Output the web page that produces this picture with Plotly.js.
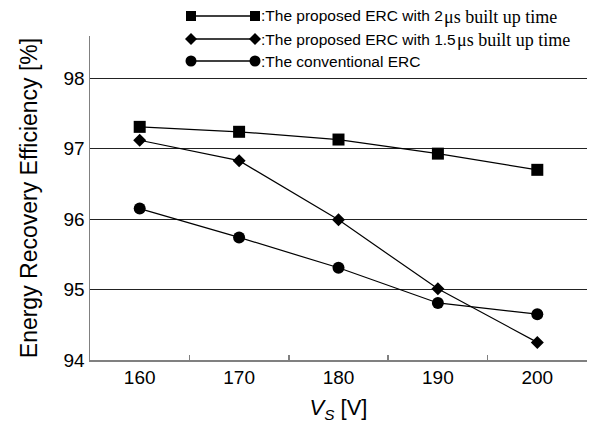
<!DOCTYPE html>
<html>
<head>
<meta charset="utf-8">
<script src="https://cdn.plot.ly/plotly-3.0.1.min.js"></script>
<style>html,body{margin:0;padding:0;background:#fff;}#chart{width:591px;height:427px;}</style>
</head>
<body>
<div id="chart"></div>
<script>
// ---- data ----
var categories = ['160', '170', '180', '190', '200'];
var proposed2us = [97.31, 97.24, 97.13, 96.93, 96.70];
var proposed15us = [97.12, 96.83, 95.99, 95.01, 94.25];
var conventional = [96.15, 95.74, 95.31, 94.81, 94.65];
var namesSans = [':The proposed ERC with 2', ':The proposed ERC with 1.5', ':The conventional ERC'];
var namesSerif = ['μs built up time', 'μs built up time', ''];
var yTicks = [94, 95, 96, 97, 98];

// ---- layout geometry ----
var W = 591, H = 427, L = 90, R = 4, T = 36, B = 67;
var pw = W - L - R, ph = H - T - B;
function px(x) { return (x - L) / pw; }
function py(y) { return (H - B - y) / ph; }

var sansFont = 'Liberation Sans', sansSize = 15.5;
var serifFont = 'Liberation Serif', serifSize = 18;
var ctx = document.createElement('canvas').getContext('2d');
ctx.font = sansSize + 'px "' + sansFont + '"';

var symbols = ['square', 'diamond', 'circle'];
var sizes = [12, 10, 12];
var allY = [proposed2us, proposed15us, conventional];

var traces = allY.map(function (ys, i) {
  return {
    x: categories, y: ys, type: 'scatter', mode: 'lines+markers',
    name: namesSans[i].slice(1) + namesSerif[i], showlegend: false,
    line: {color: '#000', width: 1.2},
    marker: {symbol: symbols[i], size: sizes[i], color: '#000'},
    cliponaxis: false
  };
});

// custom legend (line with marker at both ends)
var shapes = [], annotations = [];
var rows = [16, 39, 61];
var x1 = 191, x2 = 255, tx = 259;
rows.forEach(function (ry, i) {
  shapes.push({type: 'line', xref: 'paper', yref: 'paper',
    x0: px(x1), x1: px(x2), y0: py(ry), y1: py(ry), line: {color: '#000', width: 1.5}});
  [x1, x2].forEach(function (cx) {
    if (symbols[i] === 'square') {
      shapes.push({type: 'rect', xref: 'paper', yref: 'paper',
        x0: px(cx - 5), x1: px(cx + 5), y0: py(ry + 5), y1: py(ry - 5),
        fillcolor: '#000', line: {width: 0}});
    } else if (symbols[i] === 'circle') {
      shapes.push({type: 'circle', xref: 'paper', yref: 'paper',
        x0: px(cx - 5.5), x1: px(cx + 5.5), y0: py(ry + 5.5), y1: py(ry - 5.5),
        fillcolor: '#000', line: {width: 0}});
    } else {
      var d = 6;
      shapes.push({type: 'path', xref: 'paper', yref: 'paper',
        path: 'M' + px(cx - d) + ',' + py(ry) + ' L' + px(cx) + ',' + py(ry - d) +
              ' L' + px(cx + d) + ',' + py(ry) + ' L' + px(cx) + ',' + py(ry + d) + ' Z',
        fillcolor: '#000', line: {width: 0}});
    }
  });
  annotations.push({xref: 'paper', yref: 'paper', x: px(tx), y: py(ry),
    xanchor: 'left', yanchor: 'middle', showarrow: false, text: namesSans[i],
    font: {family: sansFont, size: sansSize, color: '#000'}});
  if (namesSerif[i]) {
    var w = ctx.measureText(namesSans[i]).width;
    annotations.push({xref: 'paper', yref: 'paper', x: px(tx + w + 1), y: py(ry + 0.5),
      xanchor: 'left', yanchor: 'middle', showarrow: false, text: namesSerif[i],
      font: {family: serifFont, size: serifSize, color: '#000'}});
  }
});

var layout = {
  width: W, height: H,
  margin: {l: L, r: R, t: T, b: B, pad: 0},
  paper_bgcolor: '#fff', plot_bgcolor: '#fff',
  font: {family: 'Liberation Sans, Arial', color: '#000'},
  showlegend: false,
  xaxis: {
    type: 'category', range: [-0.5, 4.5],
    tickson: 'boundaries', ticks: 'inside', ticklen: 5, tickcolor: '#808080', tickwidth: 1.5,
    showline: true, linecolor: '#808080', linewidth: 1.5,
    showgrid: false, zeroline: false,
    tickfont: {size: 19, color: '#000'},
    title: {text: '<i>V</i><sub><i>S</i></sub> [V]', font: {size: 22, color: '#000'}, standoff: 12}
  },
  yaxis: {
    range: [94, 98.6], tickvals: yTicks, ticktext: yTicks.map(String),
    ticks: '', showline: true, linecolor: '#808080', linewidth: 1.5,
    showgrid: true, gridcolor: '#222', gridwidth: 1, zeroline: false,
    tickfont: {size: 19, color: '#000'},
    title: {text: 'Energy Recovery Efficiency [%]', font: {size: 23, color: '#000'}, standoff: 19}
  },
  shapes: shapes,
  annotations: annotations
};

Plotly.newPlot('chart', traces, layout, {staticPlot: true, displayModeBar: false});
</script>
</body>
</html>
